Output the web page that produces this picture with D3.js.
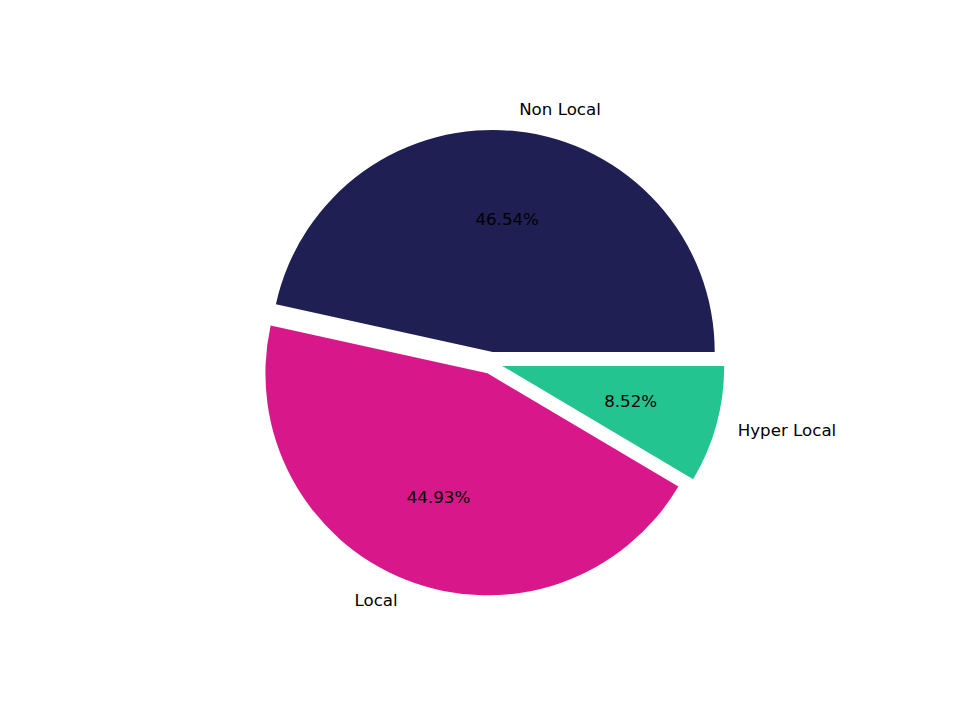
<!DOCTYPE html>
<html>
<head>
<meta charset="utf-8">
<script src="https://cdn.jsdelivr.net/npm/d3@7"></script>
<style>
  body { margin: 0; background: #fff; }
  text { font-family: "DejaVu Sans", sans-serif; font-size: 16.67px; fill: #000; }
</style>
</head>
<body>
<div id="chart"></div>
<script>
// data, in matplotlib order (counterclockwise from 3 o'clock)
var labels = ["Non Local", "Local", "Hyper Local"];
var shares = [46.54, 44.93, 8.52];
var colors = ["#1f1f53", "#d8188a", "#24c491"];
var explode = [0.05, 0.05, 0.05];

var width = 960, height = 720;
var cx = 491.5, cy = 363, radius = 222;

var total = d3.sum(shares);
var data = labels.map(function(l, i) {
  return {label: l, value: shares[i], color: colors[i], explode: explode[i]};
});

var svg = d3.select("#chart").append("svg")
  .attr("width", width)
  .attr("height", height);

var g = svg.append("g")
  .attr("transform", "translate(" + cx + "," + cy + ")");

// counterclockwise starting at east, like plt.pie
var pie = d3.pie()
  .sort(null)
  .value(function(d) { return d.value; })
  .startAngle(Math.PI / 2)
  .endAngle(Math.PI / 2 - 2 * Math.PI);

var arc = d3.arc().innerRadius(0).outerRadius(radius);

function dir(d) {
  var a = (d.startAngle + d.endAngle) / 2;
  return [Math.sin(a), -Math.cos(a)];
}

var slices = g.selectAll(".slice")
  .data(pie(data))
  .enter().append("g")
  .attr("class", "slice")
  .attr("transform", function(d) {
    var u = dir(d), off = d.data.explode * radius;
    return "translate(" + (u[0] * off) + "," + (u[1] * off) + ")";
  });

slices.append("path")
  .attr("d", arc)
  .attr("fill", function(d) { return d.data.color; });

// outer labels at 1.1 r
slices.append("text")
  .attr("x", function(d) { return dir(d)[0] * radius * 1.1; })
  .attr("y", function(d) { return dir(d)[1] * radius * 1.1; })
  .attr("dy", "0.35em")
  .attr("text-anchor", function(d) { return dir(d)[0] > 0 ? "start" : "end"; })
  .text(function(d) { return d.data.label; });

// percentages at 0.6 r
slices.append("text")
  .attr("x", function(d) { return dir(d)[0] * radius * 0.6; })
  .attr("y", function(d) { return dir(d)[1] * radius * 0.6; })
  .attr("dy", "0.35em")
  .attr("text-anchor", "middle")
  .text(function(d) { return (d.data.value / total * 100).toFixed(2) + "%"; });
</script>
</body>
</html>
